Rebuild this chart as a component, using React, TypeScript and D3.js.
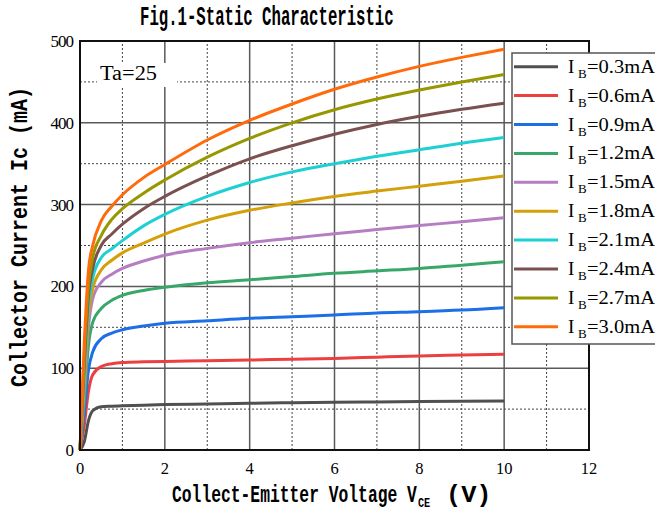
import React from 'react';
import * as d3 from 'd3';

// collector-emitter voltage sample points (V)
const vce = [0, 0.1, 0.2, 0.3, 0.5, 0.75, 1, 1.5, 2, 3, 4, 5, 6, 7, 8, 9, 10];

// collector current (mA) for each base current
const ib03 = [0, 10, 36, 48, 53, 53.5, 54, 54.8, 55.5, 56.2, 57, 57.8, 58.4, 58.8, 59.2, 59.6, 60];
const ib06 = [0, 30, 72, 92, 102, 105.5, 107, 107.8, 108.3, 109, 110, 111, 112, 113.5, 115, 116, 117];
const ib09 = [0, 45, 98, 120, 136, 143, 147, 151.5, 155, 158, 161, 163, 165, 167.5, 169, 171, 174];
const ib12 = [0, 60, 128, 156, 173, 183, 189, 195, 199, 204.5, 208, 212, 216, 219, 222, 226, 230];
const ib15 = [0, 72, 150, 185, 205, 215, 222, 231, 238, 246.5, 253.5, 259, 264.5, 269.5, 274.5, 279, 284];
const ib18 = [0, 85, 165, 197, 220, 232, 241, 253, 264, 281, 293, 302, 310, 316.5, 322.5, 328.5, 335];
const ib21 = [0, 95, 178, 210, 235, 246, 256, 274, 288, 310, 327, 340, 350, 359, 367, 375, 382];
const ib24 = [0, 105, 190, 222, 250, 264, 276, 295, 310, 335, 356, 372, 386, 398, 408, 416.5, 424];
const ib27 = [0, 115, 200, 235, 262, 282, 295, 314, 330, 358, 381, 400, 416, 429, 440, 450, 459];
const ib30 = [0, 130, 220, 250, 280, 298, 312, 333, 349, 379, 403, 423, 441, 456, 469, 480, 490];

const ibLabels = ['0.3', '0.6', '0.9', '1.2', '1.5', '1.8', '2.1', '2.4', '2.7', '3.0'];
const colors = ['#505050', '#ec4040', '#1c6fe6', '#38a86a', '#b57dc2', '#d4a00a', '#1ed0d4', '#7a5050', '#979700', '#ff6a0a'];
const seriesValues = [ib03, ib06, ib09, ib12, ib15, ib18, ib21, ib24, ib27, ib30];

const xTicks = [0, 2, 4, 6, 8, 10, 12];
const yTicks = [0, 100, 200, 300, 400, 500];

const monoBold = '"Liberation Mono", "DejaVu Sans Mono", monospace';
const serif = '"Liberation Serif", "DejaVu Serif", serif';

export default function App() {
  const margin = { top: 41, right: 66, bottom: 66, left: 80 };
  const width = 655;
  const height = 516;

  const x = d3.scaleLinear().domain([0, 12]).range([margin.left, width - margin.right]);
  const y = d3.scaleLinear().domain([0, 500]).range([height - margin.bottom, margin.top]);

  const line = d3.line<number>()
    .x((_, i) => x(vce[i]))
    .y(d => y(d))
    .curve(d3.curveMonotoneX);

  const xGrid = d3.range(0, 12.01, 1);
  const yGrid = d3.range(0, 500.1, 50);

  const legendX = 512;
  const legendY = 53;
  const rowH = 28.9;

  return (
    <svg width={width} height={height} style={{ position: 'absolute', left: 0, top: 0 }}>
      <rect width={width} height={height} fill="#fff" />

      {/* grid */}
      {xGrid.map(v => (
        <line key={'gx' + v} x1={x(v)} x2={x(v)} y1={y(0)} y2={y(500)}
          stroke={v % 2 === 0 ? '#5a5a5a' : '#444'}
          strokeWidth={v % 2 === 0 ? 1.5 : 1}
          strokeDasharray={v % 2 === 0 ? undefined : '2,2'} />
      ))}
      {yGrid.map(v => (
        <line key={'gy' + v} x1={x(0)} x2={x(12)} y1={y(v)} y2={y(v)}
          stroke={v % 100 === 0 ? '#5a5a5a' : '#444'}
          strokeWidth={v % 100 === 0 ? 1.5 : 1}
          strokeDasharray={v % 100 === 0 ? undefined : '2,2'} />
      ))}

      {/* Ta box */}
      <rect x={97} y={63} width={80} height={24} fill="#fff" />
      <text x={100} y={80} fontFamily={serif} fontSize={20} textLength={57} lengthAdjust="spacingAndGlyphs">Ta=25</text>

      {/* curves */}
      {seriesValues.map((vals, i) => (
        <path key={'s' + i} d={line(vals) || ''} fill="none" stroke={colors[i]} strokeWidth={3} strokeLinejoin="round" />
      ))}

      {/* frame */}
      <rect x={x(0)} y={y(500)} width={x(12) - x(0)} height={y(0) - y(500)} fill="none" stroke="#111" strokeWidth={2} />

      {/* tick labels */}
      {yTicks.map(v => (
        <text key={'yt' + v} x={73} y={y(v) + 6} textAnchor="end" fontFamily={serif} fontSize={17} letterSpacing={-1}>{v}</text>
      ))}
      {xTicks.map(v => (
        <text key={'xt' + v} x={x(v)} y={474} textAnchor="middle" fontFamily={serif} fontSize={16.5}>{v}</text>
      ))}

      {/* title */}
      <text transform="translate(140,25) scale(0.58,1)" fontFamily={monoBold} fontWeight="bold" fontSize={27}>Fig.1-Static Characteristic</text>

      {/* x label */}
      <text transform="translate(172,502) scale(0.71,1)" fontFamily={monoBold} fontWeight="bold" fontSize={23}>Collect-Emitter Voltage V</text>
      <text transform="translate(418,507) scale(0.85,1)" fontFamily={monoBold} fontWeight="bold" fontSize={12}>CE</text>
      <text transform="translate(446,502) scale(1.1,1)" fontFamily={monoBold} fontWeight="bold" fontSize={23}>(V)</text>

      {/* y label */}
      <text transform="translate(27,387) rotate(-90) scale(0.87,1)" fontFamily={monoBold} fontWeight="bold" fontSize={23}>Collector Current Ic (mA)</text>

      {/* legend */}
      <rect x={legendX} y={legendY} width={170} height={291} fill="#fff" stroke="#555" strokeWidth={1.5} />
      {ibLabels.map((lab, i) => {
        const cy = legendY + 13.7 + i * rowH;
        return (
          <g key={'lg' + i}>
            <line x1={514} x2={558} y1={cy} y2={cy} stroke={colors[i]} strokeWidth={3} />
            <text x={568} y={cy + 6} fontFamily={serif} fontSize={19}>I</text>
            <text x={578} y={cy + 11} fontFamily={serif} fontSize={13}>B</text>
            <text x={587} y={cy + 6} fontFamily={serif} fontSize={19} textLength={68} lengthAdjust="spacingAndGlyphs">{'=' + lab + 'mA'}</text>
          </g>
        );
      })}
    </svg>
  );
}
